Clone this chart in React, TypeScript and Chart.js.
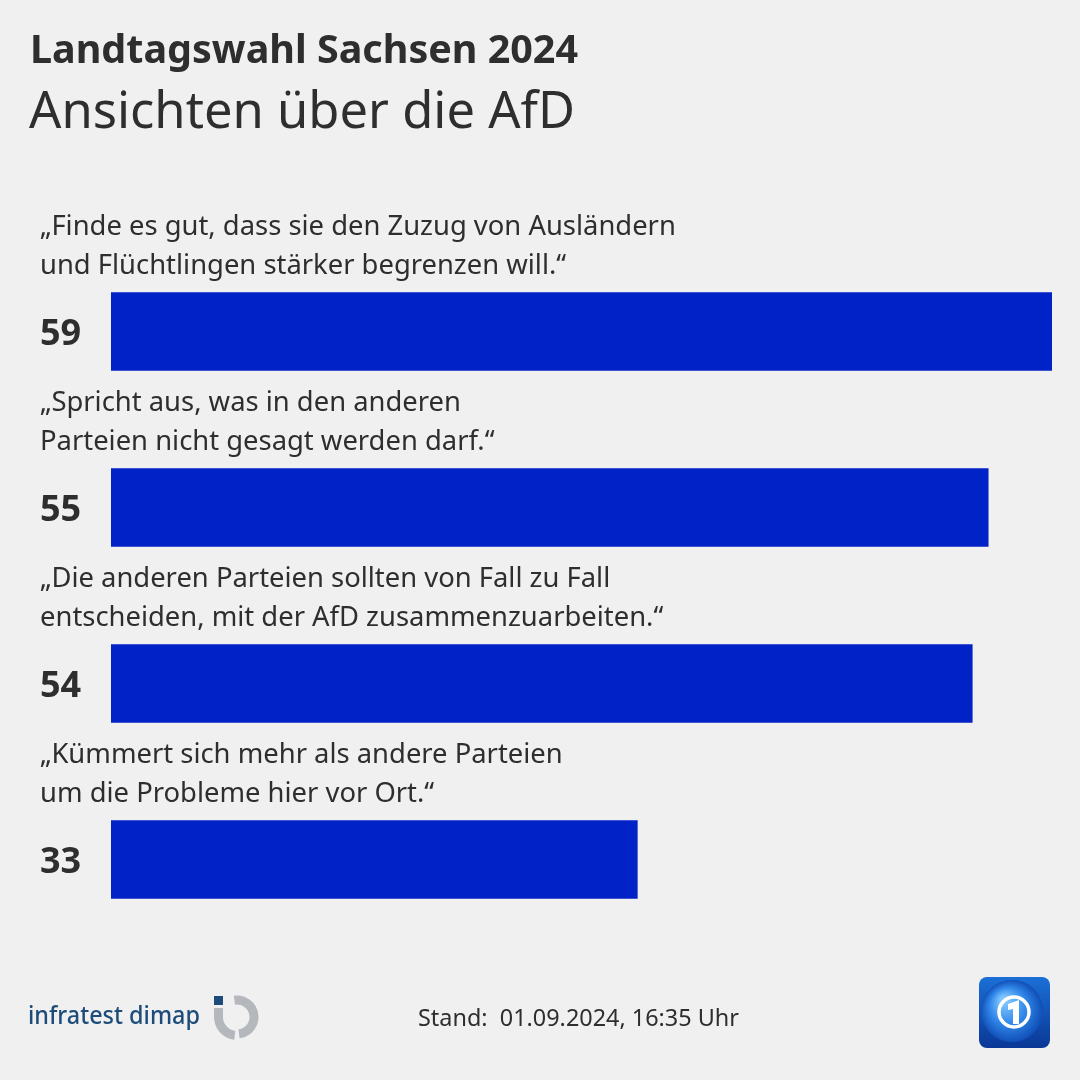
import React, { useEffect, useRef } from "react";
import { Chart, registerables } from "chart.js";

Chart.register(...registerables);

const TITLE = "Landtagswahl Sachsen 2024";
const SUBTITLE = "Ansichten über die AfD";
const statementLine1 = [
  "„Finde es gut, dass sie den Zuzug von Ausländern",
  "„Spricht aus, was in den anderen",
  "„Die anderen Parteien sollten von Fall zu Fall",
  "„Kümmert sich mehr als andere Parteien",
];
const statementLine2 = [
  "und Flüchtlingen stärker begrenzen will.“",
  "Parteien nicht gesagt werden darf.“",
  "entscheiden, mit der AfD zusammenzuarbeiten.“",
  "um die Probleme hier vor Ort.“",
];
const values = [59, 55, 54, 33];
const categories = ["Zuzug begrenzen", "Spricht aus", "Zusammenarbeit", "Kümmert sich"];
const SOURCE = "infratest dimap";
const STAND = "Stand:  01.09.2024, 16:35 Uhr";

const BG = "#f0f0f0";
const BAR = "#0022c6";
const TEXT = "#2e2e2e";
const FONT = "'Noto Sans', 'Open Sans', sans-serif";

const decorPlugin = {
  id: "decor",
  beforeDraw(chart: any) {
    const ctx = chart.ctx as CanvasRenderingContext2D;
    ctx.save();
    ctx.fillStyle = BG;
    ctx.fillRect(0, 0, chart.width, chart.height);
    ctx.restore();
  },
  afterDatasetsDraw(chart: any) {
    const ctx = chart.ctx as CanvasRenderingContext2D;
    ctx.save();
    ctx.textAlign = "left";
    ctx.textBaseline = "alphabetic";
    ctx.fillStyle = TEXT;

    // Title & subtitle
    ctx.font = `bold 40px ${FONT}`;
    ctx.fillText(TITLE, 30, 63, 548);
    ctx.font = `51px ${FONT}`;
    ctx.fillText(SUBTITLE, 29, 128, 546);

    // Statements and values
    const meta = chart.getDatasetMeta(0);
    meta.data.forEach((bar: any, i: number) => {
      const top = bar.y - bar.height / 2;
      ctx.fillStyle = TEXT;
      ctx.font = `27.4px ${FONT}`;
      ctx.fillText(statementLine1[i], 40, top - 58);
      ctx.fillText(statementLine2[i], 40, top - 19);
      ctx.font = `bold 36px ${FONT}`;
      ctx.fillText(String(values[i]), 40, bar.y + 13, 42);
    });

    // Footer: source
    ctx.fillStyle = "#1d4c7a";
    ctx.font = `500 25px ${FONT}`;
    ctx.fillText(SOURCE, 28, 1024, 172);

    // infratest dimap icon
    ctx.fillStyle = "#1d4c7a";
    ctx.fillRect(214, 996, 9, 9);
    ctx.strokeStyle = "#b4b8bc";
    ctx.lineWidth = 9;
    ctx.lineCap = "butt";
    const cx = 237, cy = 1017;
    ctx.beginPath();
    ctx.arc(cx, cy, 17, -Math.PI / 2 - 0.15, Math.PI / 2 - 0.12, false);
    ctx.stroke();
    ctx.beginPath();
    ctx.moveTo(218.5, 1008);
    ctx.lineTo(218.5, 1017);
    ctx.arc(cx, cy, 18.5, Math.PI, Math.PI / 2 + 0.12, true);
    ctx.stroke();

    // Stand
    ctx.fillStyle = TEXT;
    ctx.font = `23.5px ${FONT}`;
    ctx.fillText(STAND, 418, 1026, 321);

    // Tagesschau-like logo
    const lx = 979, ly = 977, lw = 71, lh = 71;
    const g = ctx.createLinearGradient(0, ly, 0, ly + lh);
    g.addColorStop(0, "#1b6fd6");
    g.addColorStop(1, "#0a3896");
    ctx.fillStyle = g;
    ctx.beginPath();
    ctx.roundRect(lx, ly, lw, lh, 8);
    ctx.fill();
    ctx.save();
    ctx.beginPath();
    ctx.roundRect(lx, ly, lw, lh, 8);
    ctx.clip();
    const rg = ctx.createRadialGradient(1004, 1000, 4, 1012, 1012, 33);
    rg.addColorStop(0, "#7cc4ff");
    rg.addColorStop(0.5, "#2f86e8");
    rg.addColorStop(1, "#0c47b0");
    ctx.fillStyle = rg;
    ctx.beginPath();
    ctx.arc(1012, 1011, 31, 0, Math.PI * 2);
    ctx.fill();
    ctx.restore();
    ctx.strokeStyle = "#ffffff";
    ctx.lineWidth = 3.5;
    ctx.beginPath();
    ctx.arc(1014, 1012, 15, 0, Math.PI * 2);
    ctx.stroke();
    ctx.fillStyle = "#ffffff";
    ctx.beginPath();
    ctx.moveTo(1008, 1004);
    ctx.lineTo(1019, 1000);
    ctx.lineTo(1019, 1024);
    ctx.lineTo(1013, 1024);
    ctx.lineTo(1013, 1009);
    ctx.lineTo(1008, 1010);
    ctx.closePath();
    ctx.fill();

    ctx.restore();
  },
};

export default function App() {
  const ref = useRef<HTMLCanvasElement | null>(null);
  useEffect(() => {
    if (!ref.current) return;
    const chart = new Chart(ref.current, {
      type: "bar",
      data: {
        labels: categories,
        datasets: [
          {
            data: values,
            backgroundColor: BAR,
            borderWidth: 0,
            barThickness: 78,
          },
        ],
      },
      options: {
        indexAxis: "y",
        animation: false,
        responsive: false,
        devicePixelRatio: 1,
        layout: { padding: { left: 111, right: 28, top: 243.5, bottom: 132.5 } },
        plugins: { legend: { display: false }, tooltip: { enabled: false }, title: { display: false } },
        scales: {
          x: { display: false, min: 0, max: 59 },
          y: { display: false, grid: { display: false } },
        },
      },
      plugins: [decorPlugin],
    });
    return () => chart.destroy();
  }, []);
  return (
    <div style={{ position: "fixed", left: 0, top: 0, width: 1080, height: 1080, background: BG }}>
      <canvas ref={ref} width={1080} height={1080} />
    </div>
  );
}
